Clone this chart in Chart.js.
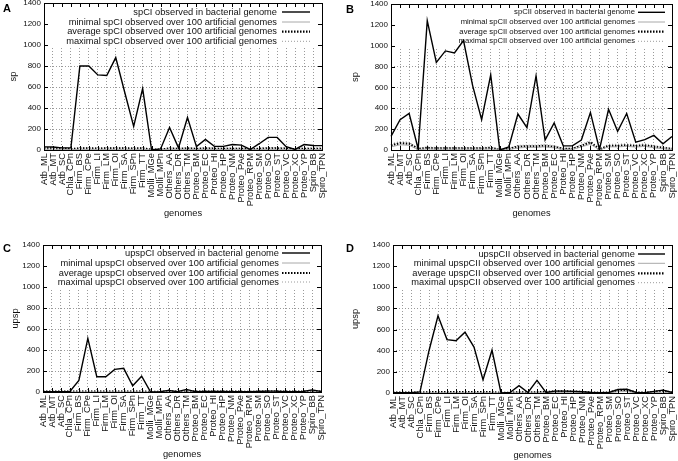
<!DOCTYPE html>
<html>
<head>
<meta charset="utf-8">
<script src="https://cdn.jsdelivr.net/npm/chart.js@4.4.1/dist/chart.umd.min.js"></script>
<style>
    html, body { margin: 0; padding: 0; background: #fff; }
    #wrap  { position: relative; width: 678px; height: 461px; overflow: hidden; }
    .panel { position: absolute; }
    .tag   { position: absolute; font: bold 11px 'Liberation Sans', Arial, sans-serif; line-height: 11px; color: #000; }
</style>
</head>
<body>
<div id="wrap">
    <div class="panel" style="left:0;top:0"><canvas id="chartA" width="339" height="230"></canvas></div>
    <div class="panel" style="left:339px;top:0"><canvas id="chartB" width="339" height="230"></canvas></div>
    <div class="panel" style="left:0;top:230px"><canvas id="chartC" width="339" height="231"></canvas></div>
    <div class="panel" style="left:339px;top:230px"><canvas id="chartD" width="339" height="231"></canvas></div>
    <div class="tag" style="left:3px;top:3px">A</div>
    <div class="tag" style="left:346px;top:4px">B</div>
    <div class="tag" style="left:3px;top:243px">C</div>
    <div class="tag" style="left:346px;top:243px">D</div>
</div>
<script>
// ── Данные
const genomes = [
    'Atb_ML', 'Atb_MT', 'Atb_SC', 'Chla_CPn', 'Firm_BS', 'Firm_CPe', 'Firm_LI', 'Firm_LM',
    'Firm_OI', 'Firm_SA', 'Firm_SPn', 'Firm_TT', 'Molli_MGe', 'Molli_MPn', 'Others_AA', 'Others_DR',
    'Others_TM', 'Proteo_BM', 'Proteo_EC', 'Proteo_HI', 'Proteo_HP', 'Proteo_NM', 'Proteo_PAe', 'Proteo_RPM',
    'Proteo_SM', 'Proteo_SO', 'Proteo_ST', 'Proteo_VC', 'Proteo_XC', 'Proteo_YP', 'Spiro_BB', 'Spiro_TPN'
];
const yTicks = [0, 200, 400, 600, 800, 1000, 1200, 1400];

// A: spCI
const spCIObserved = [30, 28, 20, 20, 800, 800, 715, 710, 880, 550, 225, 585, 0, 10, 215, 20, 310, 32, 100, 35, 35, 52, 46, 5, 60, 120, 120, 32, 5, 52, 43, 42];
const spCIMin      = [8, 8, 6, 3, 6, 6, 6, 6, 6, 6, 6, 6, 0, 2, 6, 4, 6, 4, 6, 5, 5, 5, 5, 1, 5, 6, 6, 5, 3, 5, 5, 5];
const spCIAvg      = [16, 15, 12, 8, 15, 15, 14, 15, 15, 15, 14, 15, 3, 5, 14, 10, 15, 10, 15, 12, 12, 12, 12, 4, 12, 15, 15, 12, 7, 12, 12, 12];
const spCIMax      = [25, 24, 20, 14, 24, 24, 23, 24, 24, 24, 23, 24, 6, 9, 23, 17, 24, 17, 24, 20, 20, 20, 20, 8, 20, 24, 24, 20, 12, 20, 20, 20];

// B: spCII
const spCIIObserved = [130, 290, 350, 10, 1240, 840, 950, 930, 1050, 620, 290, 720, 0, 30, 345, 215, 710, 95, 260, 40, 40, 95, 360, 5, 390, 180, 350, 75, 100, 140, 60, 130];
const spCIIMin      = [30, 50, 45, 4, 10, 8, 8, 8, 8, 8, 8, 10, 0, 4, 20, 25, 25, 30, 20, 5, 5, 30, 55, 2, 30, 30, 35, 28, 35, 22, 12, 5];
const spCIIAvg      = [45, 65, 60, 10, 20, 15, 15, 15, 15, 15, 15, 20, 2, 10, 32, 35, 35, 40, 30, 10, 10, 40, 75, 5, 40, 40, 45, 38, 45, 32, 20, 10];
const spCIIMax      = [60, 82, 75, 16, 30, 24, 24, 24, 24, 24, 24, 30, 5, 16, 45, 47, 47, 55, 42, 16, 16, 55, 92, 10, 55, 55, 60, 52, 60, 45, 30, 18];

// C: upspCI
const upspCIObserved = [2, 2, 2, 5, 110, 510, 145, 145, 215, 225, 60, 150, 0, 3, 15, 3, 25, 3, 5, 5, 5, 3, 3, 2, 5, 8, 8, 3, 3, 5, 20, 5];
const upspCIMin      = [0, 0, 0, 0, 1, 1, 1, 1, 1, 1, 1, 1, 0, 0, 1, 0, 1, 0, 0, 0, 0, 0, 0, 0, 0, 1, 1, 0, 0, 0, 1, 0];
const upspCIAvg      = [3, 3, 3, 3, 5, 5, 5, 5, 5, 5, 5, 5, 0, 1, 5, 3, 5, 3, 3, 3, 3, 3, 3, 1, 3, 5, 5, 3, 3, 3, 5, 3];
const upspCIMax      = [7, 7, 7, 7, 10, 10, 10, 10, 10, 10, 10, 10, 2, 4, 10, 7, 10, 7, 7, 7, 7, 7, 7, 4, 7, 10, 10, 7, 7, 7, 10, 7];

// D: upspCII
const upspCIIObserved = [3, 3, 3, 10, 400, 730, 505, 495, 575, 435, 125, 405, 0, 5, 70, 5, 120, 5, 18, 18, 15, 12, 5, 3, 5, 33, 35, 5, 3, 15, 27, 5];
const upspCIIMin      = [0, 0, 0, 0, 2, 2, 2, 2, 2, 2, 2, 2, 0, 0, 2, 0, 2, 2, 6, 6, 6, 4, 1, 0, 1, 12, 14, 1, 0, 4, 8, 1];
const upspCIIAvg      = [3, 3, 3, 3, 8, 8, 8, 8, 8, 8, 8, 8, 0, 2, 8, 3, 8, 8, 15, 15, 14, 10, 5, 2, 5, 25, 28, 5, 2, 10, 20, 5];
const upspCIIMax      = [7, 7, 7, 7, 14, 14, 14, 14, 14, 14, 14, 14, 3, 5, 14, 7, 14, 14, 24, 24, 22, 17, 10, 5, 10, 36, 38, 10, 5, 17, 30, 10];

// ── Общие настройки
const FONT_FAMILY = 'Liberation Sans';
const TEXT_COLOR  = '#111';
const GRID_COLOR  = '#9a9a9a';
const KEY_BOTTOM  = 985;   // нижняя граница белой подложки легенды (в единицах оси Y)

Chart.defaults.font.family = FONT_FAMILY;
Chart.defaults.color       = TEXT_COLOR;

function makeDatasets(name, obs, min, avg, max) {
    return [
        { label: `${name} observed in bacterial genome`,                 data: obs, borderColor: '#000',    borderWidth: 1.4 },
        { label: `minimal ${name} observed over 100 artificial genomes`, data: min, borderColor: '#a8a8a8', borderWidth: 1 },
        { label: `average ${name} observed over 100 artificial genomes`, data: avg, borderColor: '#000',    borderWidth: 2.2, borderDash: [1.5, 1.5] },
        { label: `maximal ${name} observed over 100 artificial genomes`, data: max, borderColor: '#808080', borderWidth: 0.8, borderDash: [1, 2] }
    ].map(d => ({ ...d, pointRadius: 0, tension: 0, fill: false }));
}

// Рамка, внутренние засечки и легенда в стиле gnuplot
const gnuFrame = {
    id: 'gnuFrame',
    beforeDatasetsDraw(chart, args, opts) {
        const { ctx, chartArea: a, scales: { y } } = chart;
        const yb = y.getPixelForValue(KEY_BOTTOM);
        ctx.save();
        ctx.fillStyle = '#fff';
        ctx.fillRect(a.left + 1, a.top + 1, a.width - 2, yb - a.top - 1);

        ctx.font         = `${opts.fontSize}px ${FONT_FAMILY}`;
        ctx.textAlign    = 'right';
        ctx.textBaseline = 'middle';
        chart.data.datasets.forEach((ds, i) => {
            const yy = opts.rows[i];
            ctx.fillStyle = TEXT_COLOR;
            ctx.fillText(ds.label, opts.textRight, yy);
            ctx.beginPath();
            ctx.setLineDash(ds.borderDash || []);
            ctx.strokeStyle = ds.borderColor;
            ctx.lineWidth   = ds.borderWidth;
            ctx.moveTo(opts.sampleLeft, yy);
            ctx.lineTo(opts.sampleRight, yy);
            ctx.stroke();
        });
        ctx.restore();
    },
    afterDraw(chart) {
        const { ctx, chartArea: a, scales: { x, y } } = chart;
        const t = 4;
        ctx.save();
        ctx.strokeStyle = '#000';
        ctx.lineWidth   = 1;
        ctx.setLineDash([]);
        ctx.beginPath();
        x.ticks.forEach((_, i) => {
            const px = Math.round(x.getPixelForTick(i)) + 0.5;
            ctx.moveTo(px, a.bottom); ctx.lineTo(px, a.bottom - t);
            ctx.moveTo(px, a.top);    ctx.lineTo(px, a.top + t);
        });
        y.ticks.forEach(tk => {
            const py = Math.round(y.getPixelForValue(tk.value)) + 0.5;
            ctx.moveTo(a.left, py);  ctx.lineTo(a.left + t, py);
            ctx.moveTo(a.right, py); ctx.lineTo(a.right - t, py);
        });
        ctx.stroke();
        ctx.strokeRect(Math.round(a.left) + 0.5, Math.round(a.top) + 0.5,
                       Math.round(a.width), Math.round(a.height));
        ctx.restore();
    }
};

function buildPanel(id, datasets, p) {
    return new Chart(document.getElementById(id), {
        type: 'line',
        data: { labels: genomes, datasets },
        options: {
            responsive: false,
            animation:  false,
            layout: { padding: { left: 0, top: p.top, right: p.right, bottom: 0 } },
            plugins: {
                legend:   { display: false },
                tooltip:  { enabled: false },
                gnuFrame: p.key
            },
            scales: {
                x: {
                    offset: false,
                    grid:   { color: GRID_COLOR, lineWidth: 1, drawTicks: false, offset: false },
                    border: { display: false, dash: [1, 2] },
                    ticks:  { autoSkip: false, minRotation: 90, maxRotation: 90, padding: 3, font: { size: 9.3 } },
                    title:  { display: true, text: 'genomes', font: { size: 9.3 }, padding: { top: 0, bottom: p.xTitlePad } },
                    afterFit: s => { s.height = p.xh; s.paddingLeft = 0; s.paddingRight = 0; }
                },
                y: {
                    min: 0,
                    max: 1400,
                    afterBuildTicks: s => { s.ticks = yTicks.map(v => ({ value: v })); },
                    grid:   { color: GRID_COLOR, lineWidth: 1, drawTicks: false },
                    border: { display: false, dash: [1, 2] },
                    ticks:  { padding: 3, font: { size: 8 }, callback: v => String(v) },
                    title:  { display: true, text: p.yTitle, font: { size: 9.3 }, padding: { top: p.yTitlePad, bottom: 0 } },
                    afterFit: s => { s.width = p.yw; s.paddingTop = 0; s.paddingBottom = 0; }
                }
            }
        },
        plugins: [gnuFrame]
    });
}

buildPanel('chartA', makeDatasets('spCI', spCIObserved, spCIMin, spCIAvg, spCIMax), {
    top: 3, right: 17, yw: 44, xh: 80, xTitlePad: 11, yTitle: 'sp', yTitlePad: 8,
    key: { fontSize: 9.3, textRight: 277, sampleLeft: 282, sampleRight: 310, rows: [12, 22, 31.7, 41.3] }
});
buildPanel('chartB', makeDatasets('spCII', spCIIObserved, spCIIMin, spCIIAvg, spCIIMax), {
    top: 4, right: 6, yw: 52, xh: 80, xTitlePad: 11, yTitle: 'sp', yTitlePad: 10.5,
    key: { fontSize: 7.7, textRight: 296, sampleLeft: 299, sampleRight: 326, rows: [12.3, 22, 31.7, 41.3] }
});
buildPanel('chartC', makeDatasets('upspCI', upspCIObserved, upspCIMin, upspCIAvg, upspCIMax), {
    top: 15, right: 18, yw: 43, xh: 69, xTitlePad: 0.5, yTitle: 'upsp', yTitlePad: 9.5,
    key: { fontSize: 9.3, textRight: 279, sampleLeft: 282, sampleRight: 310, rows: [23, 33, 43, 52] }
});
buildPanel('chartD', makeDatasets('upspCII', upspCIIObserved, upspCIIMin, upspCIIAvg, upspCIIMax), {
    top: 15, right: 6, yw: 54, xh: 68, xTitlePad: 0, yTitle: 'upsp', yTitlePad: 10.5,
    key: { fontSize: 9.3, textRight: 296, sampleLeft: 299, sampleRight: 326, rows: [24, 33.3, 43.3, 52.7] }
});
</script>
</body>
</html>
